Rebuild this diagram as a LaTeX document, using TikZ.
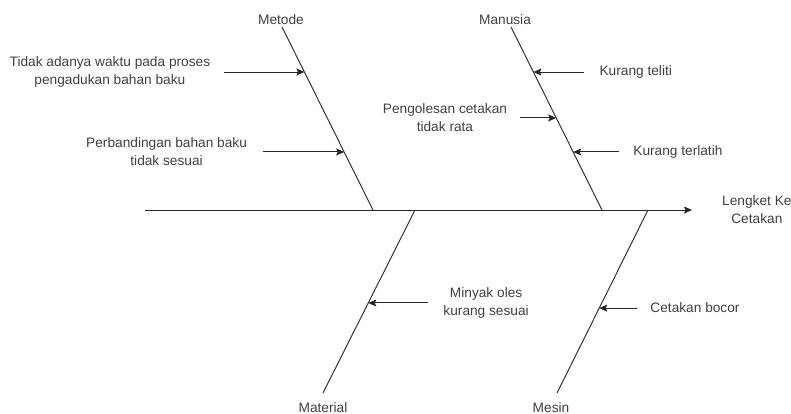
\documentclass[tikz,border=0pt]{standalone}
\usepackage{fontspec}
\setmainfont{Liberation Sans}
\usetikzlibrary{arrows.meta, positioning, calc}

\begin{document}
\begin{tikzpicture}[x=1pt, y=-1pt,
        bone/.style={draw=black!80, line width=1pt},
        cause/.style={draw=black!85, line width=1pt, -{Stealth[length=8pt, width=7pt, inset=1.5pt]}},
        lbl/.style={font=\fontsize{13.7}{18}\selectfont, text=black!75, align=center, inner sep=0pt}
    ]
    \useasboundingbox (0,0) rectangle (791,414);

    % Tulang utama
    \coordinate (ekor) at (145,210);
    \coordinate (kepala) at (692,210);
    \draw[cause] (ekor) -- (kepala);
    \node[lbl, right=30pt of kepala] (masalah) {Lengket Ke\\Cetakan};

    % Tulang kategori
    \coordinate (metA) at (282,27);  \coordinate (metB) at (373,210);
    \coordinate (manA) at (511,27);  \coordinate (manB) at (602,210);
    \coordinate (matA) at (323,393); \coordinate (matB) at (415,210);
    \coordinate (mesA) at (557,393); \coordinate (mesB) at (648,210);
    \draw[bone] (metA) -- (metB);
    \draw[bone] (manA) -- (manB);
    \draw[bone] (matA) -- (matB);
    \draw[bone] (mesA) -- (mesB);

    \node[lbl, above=2pt of metA, xshift=-1pt] (metode) {Metode};
    \node[lbl, above=2pt of manA, xshift=-6pt] (manusia) {Manusia};
    \node[lbl, below=9pt of matA] (material) {Material};
    \node[lbl, below=9pt of mesA, xshift=-6pt] (mesin) {Mesin};

    % Penyebab - Metode
    \coordinate (b1) at ($(metA)!0.246!(metB)$);
    \node[lbl, left=94pt of b1] (c1) {Tidak adanya waktu pada proses\\pengadukan bahan baku};
    \draw[cause] ([xshift=14pt]c1.east) -- (b1);
    \coordinate (b2) at ($(metA)!0.683!(metB)$);
    \node[lbl, left=97pt of b2] (c2) {Perbandingan bahan baku\\tidak sesuai};
    \draw[cause] ([xshift=16pt]c2.east) -- (b2);

    % Penyebab - Manusia
    \coordinate (b3) at ($(manA)!0.246!(manB)$);
    \node[lbl, right=66pt of b3] (c3) {Kurang teliti};
    \draw[cause] ([xshift=-15pt]c3.west) -- (b3);
    \coordinate (b4) at ($(manA)!0.497!(manB)$);
    \node[lbl, left=49pt of b4] (c4) {Pengolesan cetakan\\tidak rata};
    \draw[cause] ([xshift=13pt]c4.east) -- (b4);
    \coordinate (b5) at ($(manA)!0.683!(manB)$);
    \node[lbl, right=60pt of b5] (c5) {Kurang terlatih};
    \draw[cause] ([xshift=-14pt]c5.west) -- (b5);

    % Penyebab - Material
    \coordinate (b6) at ($(matB)!0.508!(matA)$);
    \node[lbl, right=75pt of b6] (c6) {Minyak oles\\kurang sesuai};
    \draw[cause] ([xshift=-15pt]c6.west) -- (b6);

    % Penyebab - Mesin
    \coordinate (b7) at ($(mesB)!0.536!(mesA)$);
    \node[lbl, right=51pt of b7] (c7) {Cetakan bocor};
    \draw[cause] ([xshift=-13pt]c7.west) -- (b7);
\end{tikzpicture}
\end{document}
